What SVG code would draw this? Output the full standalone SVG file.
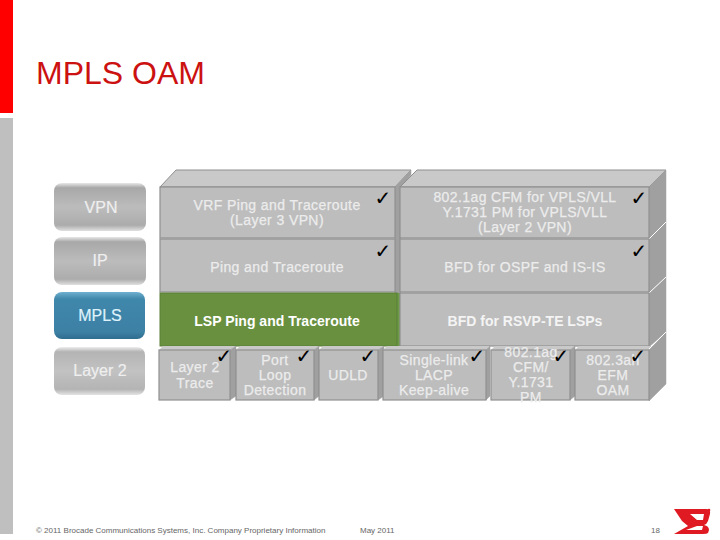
<svg xmlns="http://www.w3.org/2000/svg" width="720" height="540" viewBox="0 0 720 540">
<defs>
<linearGradient id="btn" x1="0" y1="0" x2="0" y2="1"><stop offset="0" stop-color="#e8e8e8"/><stop offset=".1" stop-color="#a8a8a8"/><stop offset=".5" stop-color="#bcbcbc"/><stop offset=".88" stop-color="#acacac"/><stop offset="1" stop-color="#e0e0e0"/></linearGradient>
<linearGradient id="btnL" x1="0" y1="0" x2="0" y2="1"><stop offset="0" stop-color="#eeeeee"/><stop offset=".1" stop-color="#b4b4b4"/><stop offset=".5" stop-color="#c2c2c2"/><stop offset=".88" stop-color="#b4b4b4"/><stop offset="1" stop-color="#e4e4e4"/></linearGradient>
<linearGradient id="btnB" x1="0" y1="0" x2="0" y2="1"><stop offset="0" stop-color="#6fb0cf"/><stop offset=".15" stop-color="#3f87ab"/><stop offset=".85" stop-color="#3d81a5"/><stop offset="1" stop-color="#2f6d8e"/></linearGradient>
</defs>
<style>
text{font-family:"Liberation Sans",Arial,sans-serif}
.f{fill:#bdbdbd;stroke:#8f8f8f;stroke-width:1.2}
.t{fill:#c9c9c9;stroke:#8f8f8f;stroke-width:1}
.s{fill:#a0a0a0;stroke:#a0a0a0;stroke-width:.5}
.g{stroke:#fff;stroke-width:1;fill:none}
.l{font-size:14px;fill:#ececec;stroke:#ececec;stroke-width:.25;text-anchor:middle;letter-spacing:.4px}
.w{font-size:14px;fill:#fff;text-anchor:middle;font-weight:bold}
.b{font-size:16px;fill:#efefef;stroke:#efefef;stroke-width:.2;text-anchor:middle}
.c{font-family:"DejaVu Sans",sans-serif;font-size:20px;font-weight:bold;fill:#000;text-anchor:middle}
.n{font-size:8px;fill:#666}
</style>
<rect x="0" y="0" width="13" height="113" fill="#f00"/>
<rect x="0" y="118" width="13" height="416" fill="#bfbfbf"/>
<text x="36" y="84" font-size="32" fill="#cc1111">MPLS OAM</text>

<g id="layer-vpn"><rect x="54" y="183" width="92" height="48" rx="8" fill="url(#btn)"/><text class="b" x="101" y="213">VPN</text></g>
<g id="layer-ip"><rect x="54" y="237" width="92" height="48" rx="8" fill="url(#btn)"/><text class="b" x="100" y="266">IP</text></g>
<g id="layer-mpls"><rect x="54" y="292" width="91" height="47" rx="8" fill="url(#btnB)"/><text class="b" x="100" y="321" style="fill:#dff2fb;stroke:#dff2fb">MPLS</text></g>
<g id="layer-2"><rect x="54" y="347" width="91" height="48" rx="8" fill="url(#btnL)"/><text class="b" x="100" y="376">Layer 2</text></g>

<g id="vrf"><polygon class="t" points="160,187 176,170 411,170 395,187"/><polygon class="s" points="395,187 411,170 411,175 401,187 401,240 395,240"/><rect class="f" x="160" y="187" width="235" height="51"/><text class="l" x="277" y="210">VRF Ping and Traceroute</text><text class="l" x="277" y="225">(Layer 3 VPN)</text><text class="c" x="383" y="205">✓</text></g>
<g id="cfm-vpls"><polygon class="t" points="400,187 417,170 666,170 649,187"/><polygon class="s" points="649,187 666,170 666,222 649,239"/><rect class="f" x="400" y="187" width="249" height="51"/><text class="l" x="525" y="202">802.1ag CFM for VPLS/VLL</text><text class="l" x="525" y="217">Y.1731 PM for VPLS/VLL</text><text class="l" x="525" y="232">(Layer 2 VPN)</text><text class="c" x="639" y="205">✓</text></g>
<g id="ping"><polygon class="s" points="395,240 401,240 401,293 395,293"/><rect class="f" x="160" y="239" width="235" height="53"/><text class="l" x="277" y="272">Ping and Traceroute</text><text class="c" x="383" y="258">✓</text></g>
<g id="bfd-ospf"><polygon class="s" points="649,239 666,222 666,277 649,293"/><line class="g" x1="649" y1="239" x2="666" y2="222"/><rect class="f" x="400" y="239" width="249" height="53"/><text class="l" x="525" y="272">BFD for OSPF and IS-IS</text><text class="c" x="639" y="258">✓</text></g>
<g id="lsp"><polygon points="395,293 401,293 401,347 395,347" fill="#6e9a48"/><rect x="160" y="293" width="237" height="53" fill="#68903f" stroke="#5a7f36"/><text class="w" x="277" y="326">LSP Ping and Traceroute</text></g>
<g id="bfd-rsvp"><polygon class="s" points="649,293 666,277 666,332 649,347"/><line class="g" x1="649" y1="293" x2="666" y2="277"/><rect class="f" x="400" y="293" width="249" height="53"/><text class="w" x="525" y="326" style="fill:#f4f4f4">BFD for RSVP-TE LSPs</text></g>

<g id="layer2-trace"><polygon points="159,350 163,346 236,346 230,350" fill="#c9c9c9"/><polygon class="s" points="230,350 236,346 236,396 230,400"/><rect class="f" x="159" y="350" width="71" height="50"/><text class="l" x="195" y="372">Layer 2</text><text class="l" x="195" y="388">Trace</text><text class="c" x="224" y="363">✓</text></g>
<g id="port-loop"><polygon points="236,350 240,346 319,346 314,350" fill="#c9c9c9"/><polygon class="s" points="314,350 319,346 319,396 314,400"/><rect class="f" x="236" y="350" width="78" height="50"/><text class="l" x="275" y="365">Port</text><text class="l" x="275" y="380">Loop</text><text class="l" x="275" y="395">Detection</text><text class="c" x="304" y="363">✓</text></g>
<g id="udld"><polygon points="319,350 323,346 384,346 378,350" fill="#c9c9c9"/><polygon class="s" points="378,350 384,346 384,396 378,400"/><rect class="f" x="319" y="350" width="59" height="50"/><text class="l" x="348" y="380">UDLD</text><text class="c" x="368" y="363">✓</text></g>
<g id="single-link"><polygon points="383,350 387,346 490,346 486,350" fill="#c9c9c9"/><polygon class="s" points="486,350 490,346 490,396 486,400"/><rect class="f" x="383" y="350" width="103" height="50"/><text class="l" x="434" y="365">Single-link</text><text class="l" x="434" y="380">LACP</text><text class="l" x="434" y="395">Keep-alive</text><text class="c" x="477" y="363">✓</text></g>
<g id="cfm-y1731"><polygon points="491,350 495,346 575,346 570,350" fill="#c9c9c9"/><polygon class="s" points="570,350 575,346 575,396 570,400"/><rect class="f" x="491" y="350" width="79" height="50"/><text class="l" x="531" y="357">802.1ag</text><text class="l" x="531" y="372">CFM/</text><text class="l" x="531" y="387">Y.1731</text><text class="l" x="531" y="402">PM</text><text class="c" x="561" y="363">✓</text></g>
<g id="efm"><polygon points="575,350 579,346 653,346 649,350" fill="#c9c9c9"/><polygon class="s" points="649,350 666,332 666,384 649,401"/><line class="g" x1="649" y1="349" x2="666" y2="332"/><rect class="f" x="575" y="350" width="74" height="50"/><text class="l" x="613" y="365">802.3ah</text><text class="l" x="613" y="380">EFM</text><text class="l" x="613" y="395">OAM</text><text class="c" x="638" y="363">✓</text></g>

<text class="n" x="36" y="533">© 2011 Brocade Communications Systems, Inc. Company Proprietary Information</text>
<text class="n" x="360" y="533">May 2011</text>
<text class="n" x="651" y="533">18</text>
<path fill="#e01a22" fill-rule="evenodd" d="M674 509H706Q711 509 710 514L708 521Q707 524 704 525Q709 526 709 530L708 533Q707 534 703 534H674L688 526L682 521ZM690 514L697 520H703L704 514ZM697 526L686 530H702L703 526Z"/>
<circle cx="709" cy="510" r="1.3" fill="#e01a22"/>
</svg>
